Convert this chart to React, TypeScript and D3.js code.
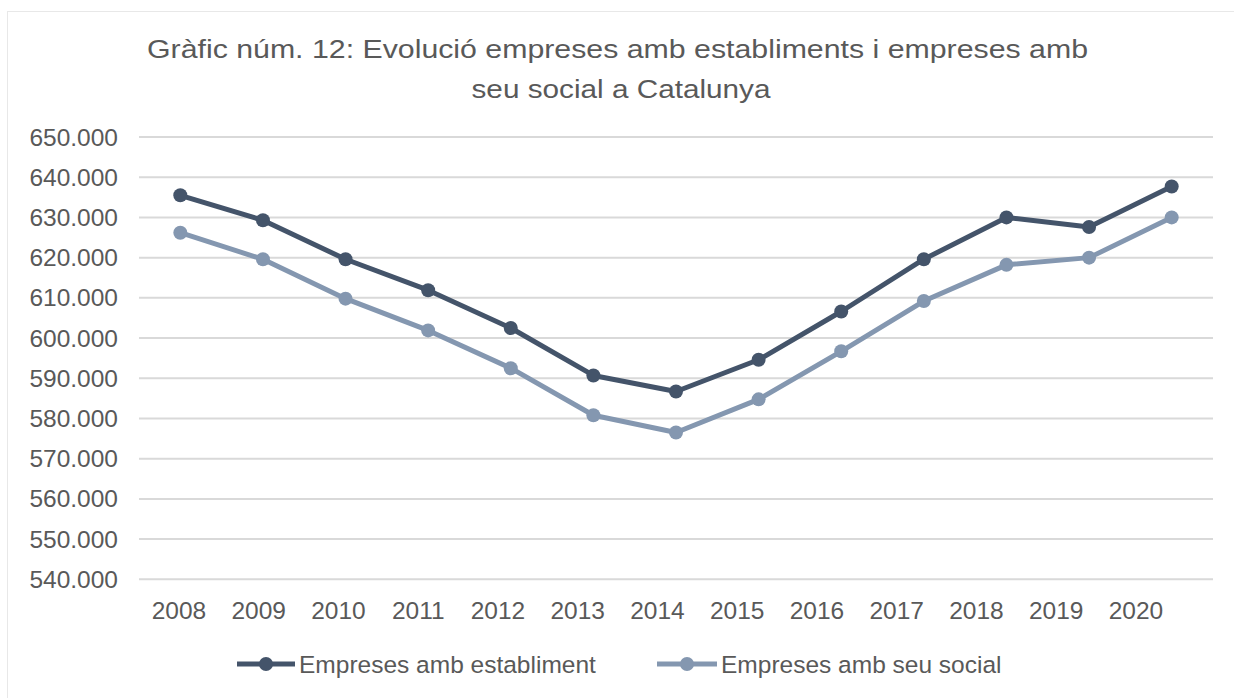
import React from "react";
import * as d3 from "d3";

const years = ["2008","2009","2010","2011","2012","2013","2014","2015","2016","2017","2018","2019","2020"];
const establiment = [635500, 629300, 619600, 611900, 602500, 590700, 586700, 594600, 606600, 619600, 630000, 627600, 637700];
const seuSocial = [626200, 619600, 609800, 601900, 592500, 580800, 576500, 584750, 596700, 609200, 618200, 620000, 630000];
const yTicks = [540000, 550000, 560000, 570000, 580000, 590000, 600000, 610000, 620000, 630000, 640000, 650000];
const titleLines = ["Gràfic núm. 12: Evolució empreses amb establiments i empreses amb", "seu social a Catalunya"];
const seriesNames = ["Empreses amb establiment", "Empreses amb seu social"];
const seriesColors = ["#44546A", "#8497B0"];

const W = 1234;
const H = 698;
const FONT = "'Liberation Sans', Arial, sans-serif";
const TEXT = "#595959";

const locale = d3.formatLocale({ decimal: ",", thousands: ".", grouping: [3], currency: ["", "€"] });
const fmt = locale.format(",d");

export default function App() {
  const x = d3.scaleBand<string>().domain(years).range([139, 1213]).padding(0);
  const xLabel = d3.scalePoint<string>().domain(years).range([179, 1136]);
  const y = d3.scaleLinear().domain([540000, 650000]).range([579.3, 137]);
  const cx = (yr: string) => (x(yr) as number) + x.bandwidth() / 2;

  const line = d3
    .line<number>()
    .x((_, i) => cx(years[i]))
    .y((d) => y(d));

  const series = [establiment, seuSocial];

  const titleLayout = [
    { cx: 617.5, y: 58, len: 941 },
    { cx: 621, y: 97.5, len: 299 },
  ];

  const legendItems = [
    { x0: 237, x1: 295, tx: 299 },
    { x0: 657, x1: 717, tx: 721 },
  ];

  return (
    <svg width={W} height={H} style={{ position: "absolute", left: 0, top: 0, display: "block" }} fontFamily={FONT}>
      <rect x={0} y={0} width={W} height={H} fill="#ffffff" />
      <rect x={7.5} y={11.5} width={W + 20} height={H + 20} fill="#ffffff" stroke="#e8e8e8" strokeWidth={1} />
      {titleLines.map((t, i) => (
        <text
          key={i}
          x={titleLayout[i].cx}
          y={titleLayout[i].y}
          textAnchor="middle"
          fontSize={26}
          fill={TEXT}
          textLength={titleLayout[i].len}
          lengthAdjust="spacingAndGlyphs"
        >
          {t}
        </text>
      ))}
      {yTicks.map((v) => (
        <g key={v}>
          <line x1={139} x2={1213} y1={y(v)} y2={y(v)} stroke="#d9d9d9" strokeWidth={2} />
          <text x={118} y={y(v)} dy="0.35em" textAnchor="end" fontSize={24.5} fill={TEXT}>
            {fmt(v)}
          </text>
        </g>
      ))}
      {years.map((yr) => (
        <text key={yr} x={xLabel(yr)} y={619} textAnchor="middle" fontSize={24.5} fill={TEXT}>
          {yr}
        </text>
      ))}
      {series.map((s, si) => (
        <g key={si}>
          <path d={line(s) || ""} fill="none" stroke={seriesColors[si]} strokeWidth={5} strokeLinejoin="round" />
          {s.map((v, i) => (
            <circle key={i} cx={cx(years[i])} cy={y(v)} r={7} fill={seriesColors[si]} />
          ))}
        </g>
      ))}
      {legendItems.map((l, i) => (
        <g key={i}>
          <line x1={l.x0} x2={l.x1} y1={664} y2={664} stroke={seriesColors[i]} strokeWidth={5} />
          <circle cx={(l.x0 + l.x1) / 2} cy={664} r={7} fill={seriesColors[i]} />
          <text x={l.tx} y={673} fontSize={24.5} fill={TEXT}>
            {seriesNames[i]}
          </text>
        </g>
      ))}
    </svg>
  );
}
